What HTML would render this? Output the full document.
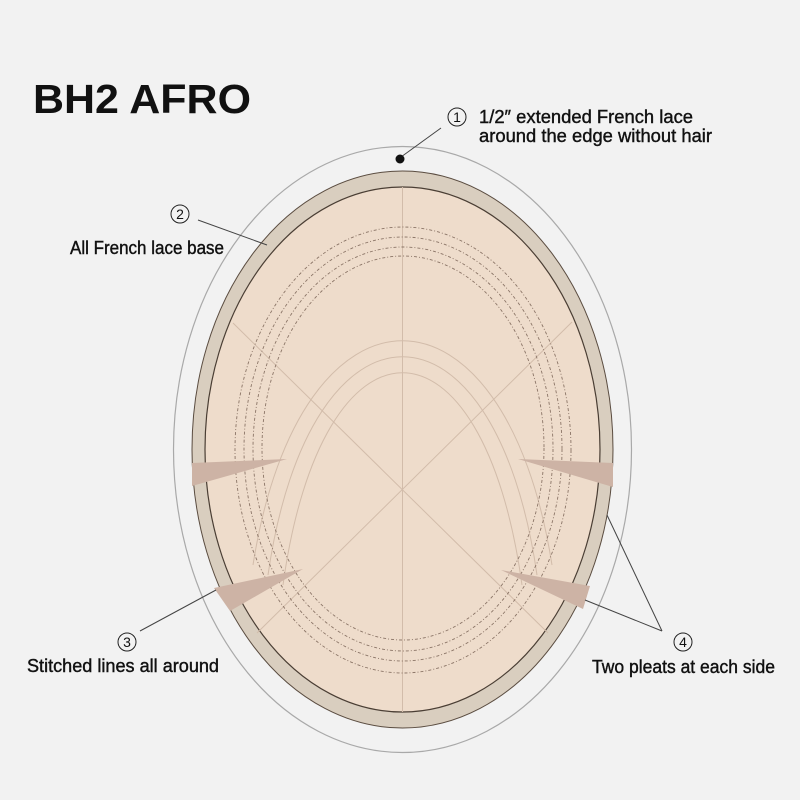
<!DOCTYPE html>
<html><head><meta charset="utf-8"><style>
html,body{margin:0;padding:0;background:#f2f2f2;}
svg{display:block;}
text{font-family:"Liberation Sans",sans-serif;fill:#111;}
</style></head><body>
<svg width="800" height="800" viewBox="0 0 800 800" xmlns="http://www.w3.org/2000/svg">
<rect width="800" height="800" fill="#f2f2f2"/>
<ellipse cx="402.5" cy="449.5" rx="229" ry="303" fill="none" stroke="#a9a9a9" stroke-width="1.2"/>
<ellipse cx="402.5" cy="449.5" rx="210.5" ry="278.5" fill="#d9cebf" stroke="#5a4c40" stroke-width="1"/>
<ellipse cx="402.5" cy="449.5" rx="197.5" ry="262.5" fill="#eedccb" stroke="#4a3e34" stroke-width="1.2"/>
<g stroke="#d2bcaa" stroke-width="1" fill="none">
<line x1="402.5" y1="187" x2="402.5" y2="712"/>
<line x1="233" y1="323" x2="548" y2="633"/>
<line x1="572" y1="322" x2="257" y2="633"/>
<path d="M253,565 C300,266 505,266 552,565"/>
<path d="M268,575 C310,284 495,284 537,575"/>
<path d="M283,585 C322,302 483,302 522,585"/>
</g>
<g stroke="#8a7466" stroke-width="0.9" fill="none" stroke-dasharray="3 2 1 2">
<ellipse cx="403" cy="450" rx="168" ry="223"/>
<ellipse cx="403" cy="449" rx="159" ry="212"/>
<ellipse cx="403" cy="449" rx="150" ry="202"/>
<ellipse cx="403" cy="448" rx="141" ry="192"/>
</g>
<g fill="#cdb3a5">
<polygon points="192,463 287,459 192,486"/>
<polygon points="613,463 518,459 613,487"/>
<polygon points="214,588 303,569 230,611"/>
<polygon points="590,586 501,570 583,609"/>
</g>
<g stroke="#444" stroke-width="1" fill="none">
<line x1="441" y1="128" x2="401" y2="157"/>
<line x1="198" y1="220" x2="267" y2="245"/>
<line x1="140" y1="631" x2="216" y2="590"/>
<line x1="662" y1="631" x2="607" y2="515"/>
<line x1="662" y1="631" x2="585" y2="600"/>
</g>
<circle cx="400" cy="159" r="4.5" fill="#111"/>
<text x="33" y="113" font-size="41" font-weight="bold" textLength="218" lengthAdjust="spacingAndGlyphs">BH2 AFRO</text>
<g fill="none" stroke="#222" stroke-width="1"><circle cx="457" cy="117" r="9"/><circle cx="180" cy="214" r="9"/><circle cx="127" cy="642" r="9"/><circle cx="683" cy="642" r="9"/></g>
<g font-size="14" text-anchor="middle"><text x="457" y="122">1</text><text x="180" y="219">2</text><text x="127" y="647">3</text><text x="683" y="647">4</text></g>
<g font-size="18" stroke="#111" stroke-width="0.4">
<text x="479" y="123" textLength="214" lengthAdjust="spacingAndGlyphs">1/2″  extended French lace</text>
<text x="479" y="142" textLength="233" lengthAdjust="spacingAndGlyphs">around the edge without hair</text>
<text x="70" y="254" textLength="154" lengthAdjust="spacingAndGlyphs">All French lace base</text>
<text x="27" y="672" textLength="192" lengthAdjust="spacingAndGlyphs">Stitched lines all around</text>
<text x="592" y="673" textLength="183" lengthAdjust="spacingAndGlyphs">Two pleats at each side</text>
</g>
</svg>
</body></html>
